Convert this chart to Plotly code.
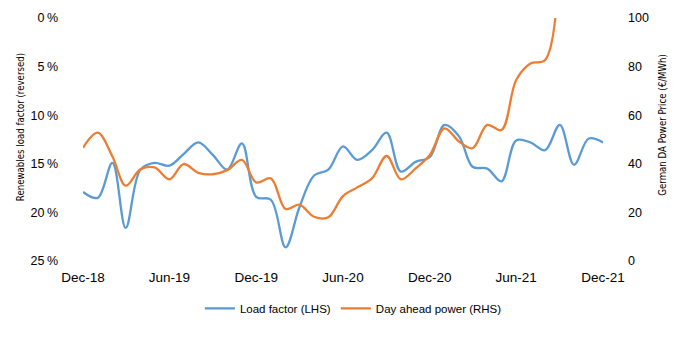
import plotly.graph_objects as go
import pandas as pd

months = pd.date_range("2018-12-01", "2021-12-01", freq="MS").strftime("%Y-%m-%d").tolist()

load_factor = [17.9, 18.5, 14.9, 21.6, 15.6, 14.9, 15.2, 14.0, 12.8, 14.1, 15.6, 12.9,
               18.4, 18.7, 23.6, 19.5, 16.2, 15.6, 13.2, 14.6, 13.6, 11.8, 15.8, 14.8,
               14.3, 11.0, 12.2, 15.3, 15.5, 16.8, 12.6, 12.8, 13.6, 11.0, 15.1, 12.4,
               12.8]

day_ahead = [46.6, 52.8, 43.0, 31.0, 37.7, 38.5, 33.6, 39.9, 36.3, 35.7, 37.4, 41.6,
             32.3, 34.0, 21.4, 23.2, 18.2, 18.0, 26.7, 30.3, 34.0, 43.2, 33.6, 38.1,
             43.6, 54.6, 49.1, 46.4, 56.0, 53.9, 74.5, 81.3, 82.7, 128.0]

tick_dates = ["2018-12-01", "2019-06-01", "2019-12-01", "2020-06-01", "2020-12-01", "2021-06-01", "2021-12-01"]
tick_text = ["Dec-18", "Jun-19", "Dec-19", "Jun-20", "Dec-20", "Jun-21", "Dec-21"]
left_ticks = [0, 5, 10, 15, 20, 25]
left_text = ["0\u2009%", "5\u2009%", "10\u2009%", "15\u2009%", "20\u2009%", "25\u2009%"]
right_ticks = [0, 20, 40, 60, 80, 100]
left_title = "Renewables load factor (reversed)"
right_title = "German DA Power Price (€/MWh)"

font = "Liberation Sans, Arial, sans-serif"
narrow = "DejaVu Sans Condensed, Liberation Sans Narrow, Arial Narrow, sans-serif"

fig = go.Figure()
fig.add_trace(go.Scatter(x=months, y=load_factor, name="Load factor (LHS)", mode="lines",
                         line=dict(color="#5B9BD5", width=2.3, shape="spline", smoothing=1.0),
                         yaxis="y"))
fig.add_trace(go.Scatter(x=months[:len(day_ahead)], y=day_ahead, name="Day ahead power (RHS)", mode="lines",
                         line=dict(color="#ED7D31", width=2.3, shape="spline", smoothing=1.0),
                         yaxis="y2"))

fig.add_annotation(text=left_title, xref="paper", yref="paper", x=-0.121, y=0.551,
                   xanchor="center", yanchor="middle", textangle=-90, showarrow=False,
                   font=dict(family=narrow, size=9.6))
fig.add_annotation(text=right_title, xref="paper", yref="paper", x=1.115, y=0.56,
                   xanchor="center", yanchor="middle", textangle=-90, showarrow=False,
                   font=dict(family=narrow, size=9.6))

fig.update_layout(
    width=675, height=342,
    margin=dict(l=83, r=72, t=18, b=81),
    paper_bgcolor="white", plot_bgcolor="white",
    font=dict(family=font, size=12, color="#000000"),
    showlegend=True,
    legend=dict(orientation="h", x=0.52, xanchor="center", y=-0.195, yanchor="middle",
                font=dict(family=font, size=11.5), itemwidth=30, tracegroupgap=0),
    xaxis=dict(type="date", range=["2018-12-01", "2021-12-01"], tickvals=tick_dates, ticktext=tick_text,
               showgrid=False, zeroline=False, showline=False, ticks="", ticklabelstandoff=6,
               tickfont=dict(size=13.5)),
    yaxis=dict(range=[25, 0], tickvals=left_ticks, ticktext=left_text, showgrid=False, zeroline=False,
               showline=False, ticks="", ticklabelstandoff=24, tickfont=dict(size=12.5)),
    yaxis2=dict(range=[0, 100], overlaying="y", side="right", tickvals=right_ticks, showgrid=False,
                zeroline=False, showline=False, ticks="", ticklabelstandoff=24, tickfont=dict(size=12.5)),
)

fig.write_html("out.html")
